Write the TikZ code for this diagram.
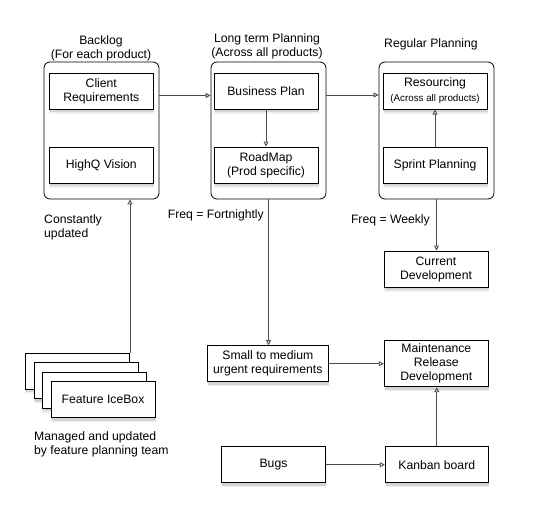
\documentclass[tikz,border=0pt]{standalone}
\usepackage{fontspec}
\setmainfont{Liberation Sans}
\usetikzlibrary{arrows.meta,shadows}

\begin{document}
\begin{tikzpicture}[x=1pt,y=-1pt,
    font=\fontsize{12.2}{14}\selectfont,
    box/.style={shape=rectangle,draw,line width=1pt,fill=white,align=center,inner sep=0pt,minimum width=104pt,minimum height=36pt,
      drop shadow={shadow xshift=0.5pt,shadow yshift=-4.5pt,shadow scale=1.01,opacity=0.12},
      drop shadow={shadow xshift=0.5pt,shadow yshift=-3pt,opacity=0.25}},
    group/.style={shape=rectangle,draw,line width=0.8pt,rounded corners=6pt,minimum width=115pt,minimum height=137pt},
    flow/.style={draw=black!70,line width=0.9pt,-{Triangle[open,length=5pt,width=5pt,fill=white]}},
    note/.style={inner sep=0pt}]
    \useasboundingbox (0,0) rectangle (546,528);
    \node[group] (backlog) at (101.5,130.5) {};
    \node[group] (longterm) at (268.5,130.5) {};
    \node[group] (regular) at (436.5,130.5) {};
    \node[note,align=center] (backlogtitle) at (101,48.5) {Backlog\\(For each product)};
    \node[note,align=center] (longtermtitle) at (267,46) {Long term Planning\\(Across all products)};
    \node[note] (regulartitle) at (431,44) {Regular Planning};
    \node[box] (clientreq) at (101.3,91.3) {Client\\Requirements};
    \node[box] (highq) at (101.3,165.3) {HighQ Vision};
    \node[box] (bizplan) at (266,91) {Business Plan};
    \node[box] (roadmap) at (266,165) {RoadMap\\(Prod specific)};
    \node[box] (resourcing) at (435,91) {Resourcing\\[1pt]{\fontsize{9.8}{11}\selectfont(Across all products)}};
    \node[box] (sprint) at (435,165) {Sprint Planning};
    \node[box] (curdev) at (436,269) {Current\\Development};
    \node[box,minimum width=121pt] (smallreq) at (267.8,363.7) {Small to medium\\urgent requirements};
    \node[box,minimum height=46pt] (maint) at (436.3,363.7) {Maintenance\\Release\\Development};
    \node[box] (bugs) at (273.5,464.7) {Bugs};
    \node[box,minimum width=103pt] (kanban) at (436.8,464.7) {Kanban board};
    \node[box] (icebox1) at (77.5,371) {};
    \node[box] (icebox2) at (86,380.5) {};
    \node[box] (icebox3) at (94.5,390) {};
    \node[box] (icebox) at (103,399.5) {Feature IceBox};
    \node[note,anchor=west,align=left] (constantly) at (44,227.5) {Constantly\\updated};
    \node[note,anchor=east] (fortnightly) at (264,215) {Freq = Fortnightly};
    \node[note,anchor=east] (weekly) at (430,220) {Freq = Weekly};
    \node[note,anchor=west,align=left] (managed) at (34,444) {Managed and updated\\by feature planning team};
    \draw[flow] ([yshift=35pt]backlog.east) -- ([yshift=35pt]longterm.west);
    \draw[flow] ([yshift=35.5pt]longterm.east) -- ([yshift=35.5pt]regular.west);
    \draw[flow] (bizplan) -- (roadmap);
    \draw[flow] (sprint) -- (resourcing);
    \draw[flow] (regular.south) -- (regular.south |- curdev.north);
    \draw[flow] (longterm.south) -- (longterm.south |- smallreq.north);
    \draw[flow] (smallreq) -- (maint);
    \draw[flow] (bugs) -- (kanban);
    \draw[flow] (kanban) -- (kanban |- maint.south);
    \draw[flow] (icebox1.north east) -- (icebox1.north east |- backlog.south);
\end{tikzpicture}
\end{document}
